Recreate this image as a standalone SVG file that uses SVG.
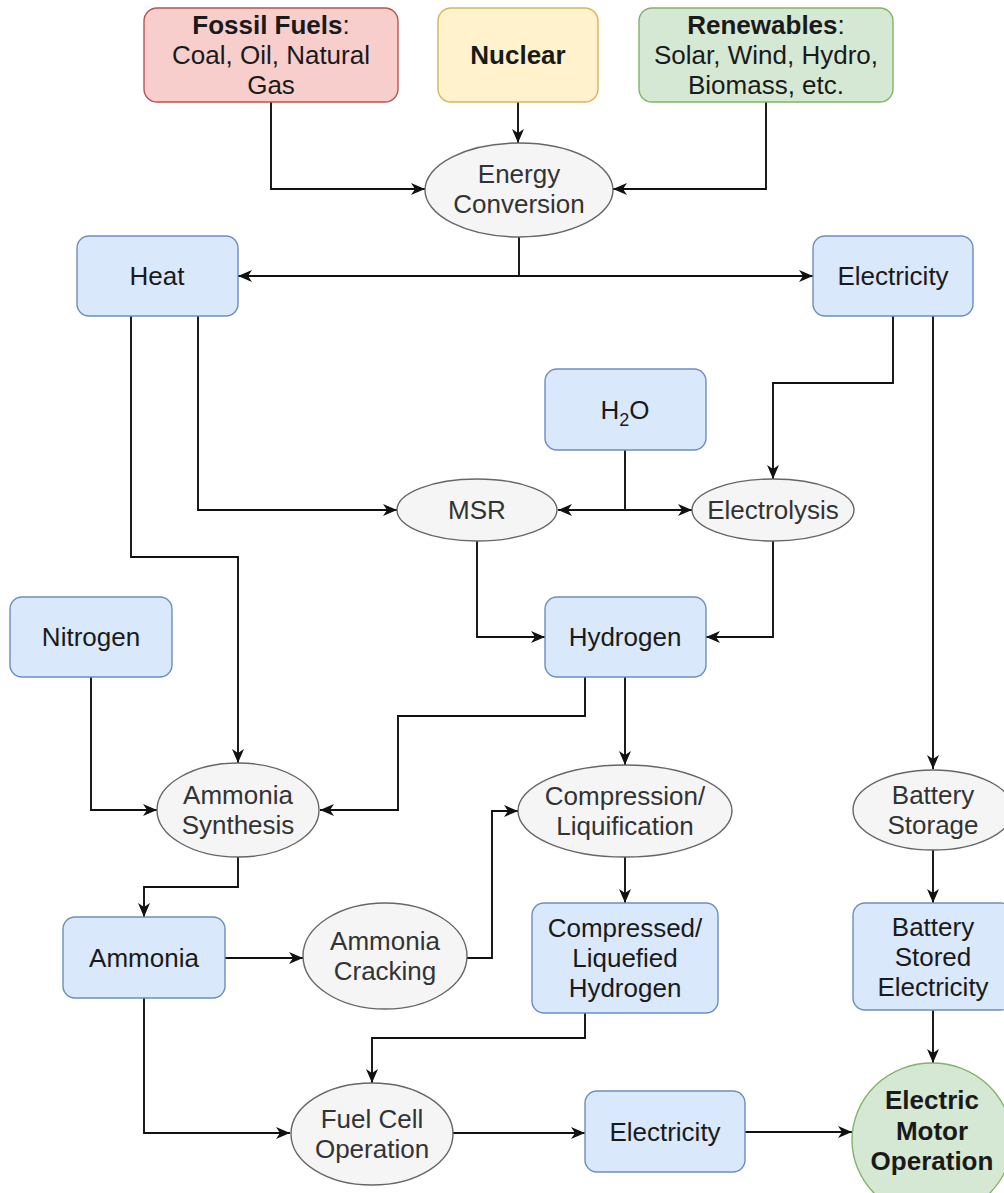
<svg xmlns="http://www.w3.org/2000/svg" width="1004" height="1193" viewBox="0 0 1004 1193">
<style>
text{font-family:"Liberation Sans",Arial,sans-serif;font-size:26px;text-anchor:middle}
.box{fill:#dae8fc;stroke:#6c8ebf;stroke-width:1.4}
.ell{fill:#f5f5f5;stroke:#666666;stroke-width:1.4}
.bt{fill:#1a1a1a}
.et{fill:#333333}
.b{font-weight:bold}
.c path{fill:none;stroke:#111;stroke-width:1.9}
</style>
<defs>
<marker id="a" markerWidth="15" markerHeight="14" refX="14" refY="7" orient="auto" markerUnits="userSpaceOnUse">
<path d="M0,1 L14,7 L0,13 L4,7 z" fill="#111"/>
</marker>
</defs>
<rect width="1004" height="1193" fill="#ffffff"/>

<g class="c">
<path d="M271,102 V189 H425" marker-end="url(#a)"/>
<path d="M518,102 V143" marker-end="url(#a)"/>
<path d="M766,102 V189 H613" marker-end="url(#a)"/>
<path d="M519,237 V276"/>
<path d="M519,276 H238" marker-end="url(#a)"/>
<path d="M519,276 H813" marker-end="url(#a)"/>
<path d="M198,316 V510 H397" marker-end="url(#a)"/>
<path d="M131,316 V557 H238 V763" marker-end="url(#a)"/>
<path d="M893,316 V383 H773 V479" marker-end="url(#a)"/>
<path d="M933,316 V769" marker-end="url(#a)"/>
<path d="M625,450 V510"/>
<path d="M625,510 H558" marker-end="url(#a)"/>
<path d="M625,510 H692" marker-end="url(#a)"/>
<path d="M477,541 V637 H545" marker-end="url(#a)"/>
<path d="M773,541 V637 H706" marker-end="url(#a)"/>
<path d="M91,677 V810 H157" marker-end="url(#a)"/>
<path d="M585,677 V716 H398 V810 H320" marker-end="url(#a)"/>
<path d="M625,677 V765" marker-end="url(#a)"/>
<path d="M238,857 V887 H144 V917" marker-end="url(#a)"/>
<path d="M225,958 H303" marker-end="url(#a)"/>
<path d="M467,958 H492 V811 H518" marker-end="url(#a)"/>
<path d="M625,857 V903" marker-end="url(#a)"/>
<path d="M933,850 V903" marker-end="url(#a)"/>
<path d="M585,1013 V1038 H372 V1083" marker-end="url(#a)"/>
<path d="M144,998 V1133 H290" marker-end="url(#a)"/>
<path d="M453,1133 H585" marker-end="url(#a)"/>
<path d="M745,1132 H852" marker-end="url(#a)"/>
<path d="M933,1010 V1063" marker-end="url(#a)"/>
</g>

<g id="fossil">
<rect x="144" y="8" width="254" height="94" rx="13" fill="#f8cecc" stroke="#b85450" stroke-width="1.4"/>
<text x="271" y="34" class="bt"><tspan class="b">Fossil Fuels</tspan>:</text>
<text x="271" y="64" class="bt">Coal, Oil, Natural</text>
<text x="271" y="94" class="bt">Gas</text>
</g>
<g id="nuclear">
<rect x="438" y="8" width="160" height="94" rx="13" fill="#fff2cc" stroke="#d6b656" stroke-width="1.4"/>
<text x="518" y="64" class="bt b">Nuclear</text>
</g>
<g id="renewables">
<rect x="639" y="8" width="254" height="94" rx="13" fill="#d5e8d4" stroke="#82b366" stroke-width="1.4"/>
<text x="766" y="34" class="bt"><tspan class="b">Renewables</tspan>:</text>
<text x="766" y="64" class="bt">Solar, Wind, Hydro,</text>
<text x="766" y="94" class="bt">Biomass, etc.</text>
</g>
<g id="energy-conversion">
<ellipse cx="519" cy="190" rx="94" ry="47" class="ell"/>
<text x="519" y="183" class="et">Energy</text>
<text x="519" y="213" class="et">Conversion</text>
</g>
<g id="heat">
<rect x="77" y="236" width="161" height="80" rx="12" class="box"/>
<text x="157" y="285" class="bt">Heat</text>
</g>
<g id="electricity-top">
<rect x="813" y="236" width="160" height="80" rx="12" class="box"/>
<text x="893" y="285" class="bt">Electricity</text>
</g>
<g id="h2o">
<rect x="545" y="369" width="161" height="81" rx="12" class="box"/>
<text x="625" y="419" class="bt">H<tspan font-size="18" dy="7">2</tspan><tspan dy="-7">O</tspan></text>
</g>
<g id="msr">
<ellipse cx="477" cy="510" rx="80" ry="31" class="ell"/>
<text x="477" y="519" class="et">MSR</text>
</g>
<g id="electrolysis">
<ellipse cx="773" cy="510" rx="81" ry="31" class="ell"/>
<text x="773" y="519" class="et">Electrolysis</text>
</g>
<g id="nitrogen">
<rect x="10" y="597" width="162" height="80" rx="12" class="box"/>
<text x="91" y="646" class="bt">Nitrogen</text>
</g>
<g id="hydrogen">
<rect x="545" y="597" width="161" height="80" rx="12" class="box"/>
<text x="625" y="646" class="bt">Hydrogen</text>
</g>
<g id="ammonia-synthesis">
<ellipse cx="238" cy="810" rx="81" ry="47" class="ell"/>
<text x="238" y="804" class="et">Ammonia</text>
<text x="238" y="834" class="et">Synthesis</text>
</g>
<g id="compression">
<ellipse cx="625" cy="811" rx="107" ry="46" class="ell"/>
<text x="625" y="805" class="et">Compression/</text>
<text x="625" y="835" class="et">Liquification</text>
</g>
<g id="battery-storage">
<ellipse cx="933" cy="810" rx="80" ry="40" class="ell"/>
<text x="933" y="804" class="et">Battery</text>
<text x="933" y="834" class="et">Storage</text>
</g>
<g id="ammonia">
<rect x="63" y="917" width="162" height="81" rx="12" class="box"/>
<text x="144" y="967" class="bt">Ammonia</text>
</g>
<g id="ammonia-cracking">
<ellipse cx="385" cy="956" rx="82" ry="53" class="ell"/>
<text x="385" y="950" class="et">Ammonia</text>
<text x="385" y="980" class="et">Cracking</text>
</g>
<g id="compressed-hydrogen">
<rect x="532" y="903" width="186" height="110" rx="12" class="box"/>
<text x="625" y="937" class="bt">Compressed/</text>
<text x="625" y="967" class="bt">Liquefied</text>
<text x="625" y="997" class="bt">Hydrogen</text>
</g>
<g id="battery-stored">
<rect x="853" y="903" width="160" height="107" rx="12" class="box"/>
<text x="933" y="936" class="bt">Battery</text>
<text x="933" y="966" class="bt">Stored</text>
<text x="933" y="996" class="bt">Electricity</text>
</g>
<g id="fuel-cell">
<ellipse cx="372" cy="1134" rx="81" ry="51" class="ell"/>
<text x="372" y="1128" class="et">Fuel Cell</text>
<text x="372" y="1158" class="et">Operation</text>
</g>
<g id="electricity-bottom">
<rect x="585" y="1091" width="160" height="81" rx="12" class="box"/>
<text x="665" y="1141" class="bt">Electricity</text>
</g>
<g id="electric-motor">
<ellipse cx="932" cy="1140" rx="80" ry="77" fill="#d5e8d4" stroke="#82b366" stroke-width="1.4"/>
<text x="932" y="1109" class="bt b">Electric</text>
<text x="932" y="1140" class="bt b">Motor</text>
<text x="932" y="1170" class="bt b">Operation</text>
</g>
</svg>
